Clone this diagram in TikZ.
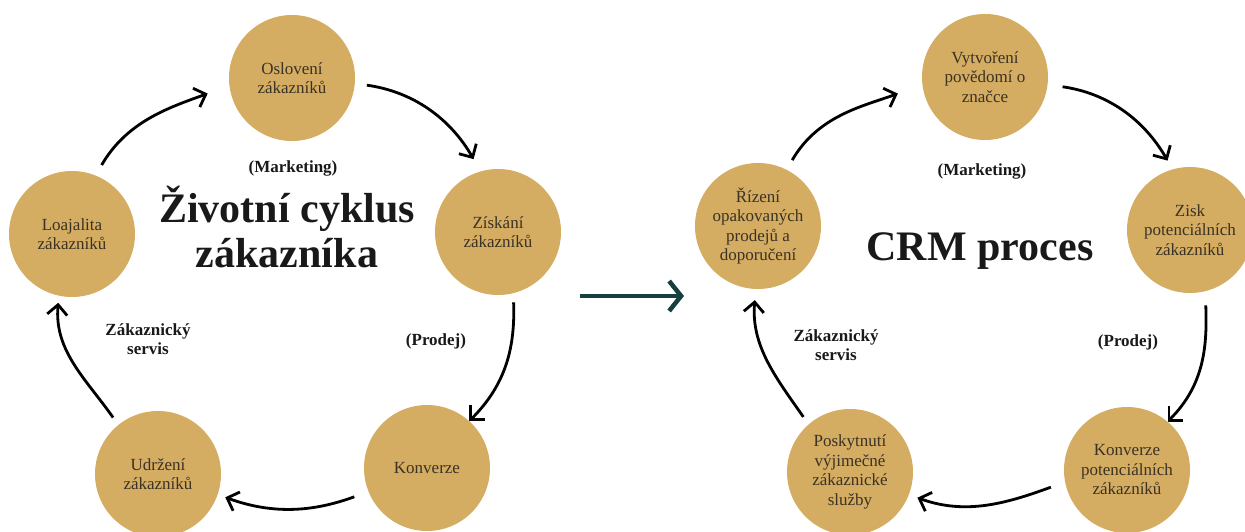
\documentclass[tikz,border=0pt]{standalone}
\usepackage{fontspec}
\setmainfont{Liberation Serif}
\usetikzlibrary{arrows.meta}
\definecolor{crmgold}{RGB}{212,172,98}
\definecolor{crmteal}{RGB}{22,64,64}
\definecolor{crmtext}{RGB}{58,50,36}
\tikzset{
  phase/.style={circle,fill=crmgold,minimum size=126pt,inner sep=0pt,align=center,
    text=crmtext,font=\fontsize{17}{19.5}\selectfont},
  tag/.style={align=center,text=black!90,font=\bfseries\fontsize{17}{19}\selectfont},
  headline/.style={align=center,text=black!90,font=\bfseries\fontsize{42}{45}\selectfont},
  cyc/.style={line width=2.8pt,-{Straight Barb[length=10pt,width=20pt]}},
}

\begin{document}
\begin{tikzpicture}[x=1pt,y=1pt]
  \useasboundingbox (0,0) rectangle (1245,531);
  % zivotni cyklus zakaznika
  \node [phase] (os) at (292,453) {Oslovení\\zákazníků};
  \node [phase] (zi) at (498,299) {Získání\\zákazníků};
  \node [phase] (ko) at (427,63) {Konverze};
  \node [phase] (ud) at (158,57) {Udržení\\zákazníků};
  \node [phase] (lo) at (72,297) {Loajalita\\zákazníků};
  \node [headline,anchor=base] (t1) at (287,263) {Životní cyklus\\zákazníka};
  \node [tag] (mk1) at (293,363) {(Marketing)};
  \node [tag] (pr1) at (436,190) {(Prodej)};
  \node [tag] (zs1) at (148,192) {Zákaznický\\servis};
  \draw [cyc,shorten <=12pt,shorten >=23pt] (lo.68) to[out=60,in=200] (os.187);
  \draw [cyc,shorten <=12pt,shorten >=14pt] (os.-5) to[out=-8,in=120] (zi.106);
  \draw [cyc,shorten <=9pt] (zi.-76) to[out=-88,in=45] (ko.48);
  \draw [cyc,shorten <=15pt,shorten >=8pt] (ko.202) to[out=200,in=-20] (ud.-19);
  \draw [cyc,shorten <=9pt,shorten >=7pt] (ud.129) to[out=125,in=-95] (lo.-102);
  % prechod
  \coordinate (m1) at (580,235);
  \coordinate (m2) at (684,235);
  \draw [line width=4.5pt,crmteal,-{Straight Barb[length=12pt,width=30pt]}] (m1) -- (m2);
  % CRM proces
  \node [phase] (vy) at (985,454) {Vytvoření\\povědomí o\\značce};
  \node [phase] (zp) at (1190,301) {Zisk\\potenciálních\\zákazníků};
  \node [phase] (kp) at (1127,61) {Konverze\\potenciálních\\zákazníků};
  \node [phase] (po) at (850,59) {Poskytnutí\\výjimečné\\zákaznické\\služby};
  \node [phase] (ri) at (758,305) {Řízení\\opakovaných\\prodejů a\\doporučení};
  \node [headline,anchor=base] (t2) at (980,271) {CRM proces};
  \node [tag] (mk2) at (982,360) {(Marketing)};
  \node [tag] (pr2) at (1128,189) {(Prodej)};
  \node [tag] (zs2) at (836,186) {Zákaznický\\servis};
  \draw [cyc,shorten <=11pt,shorten >=26pt] (ri.63) to[out=60,in=200] (vy.187);
  \draw [cyc,shorten <=15pt,shorten >=10pt] (vy.-7) to[out=-8,in=120] (zp.106);
  \draw [cyc,shorten <=14pt] (zp.-76) to[out=-88,in=45] (kp.50);
  \draw [cyc,shorten <=15pt,shorten >=9pt] (kp.191) to[out=200,in=-20] (po.-21);
  \draw [cyc,shorten <=9pt,shorten >=11pt] (po.131) to[out=125,in=-95] (ri.-92);
\end{tikzpicture}
\end{document}
